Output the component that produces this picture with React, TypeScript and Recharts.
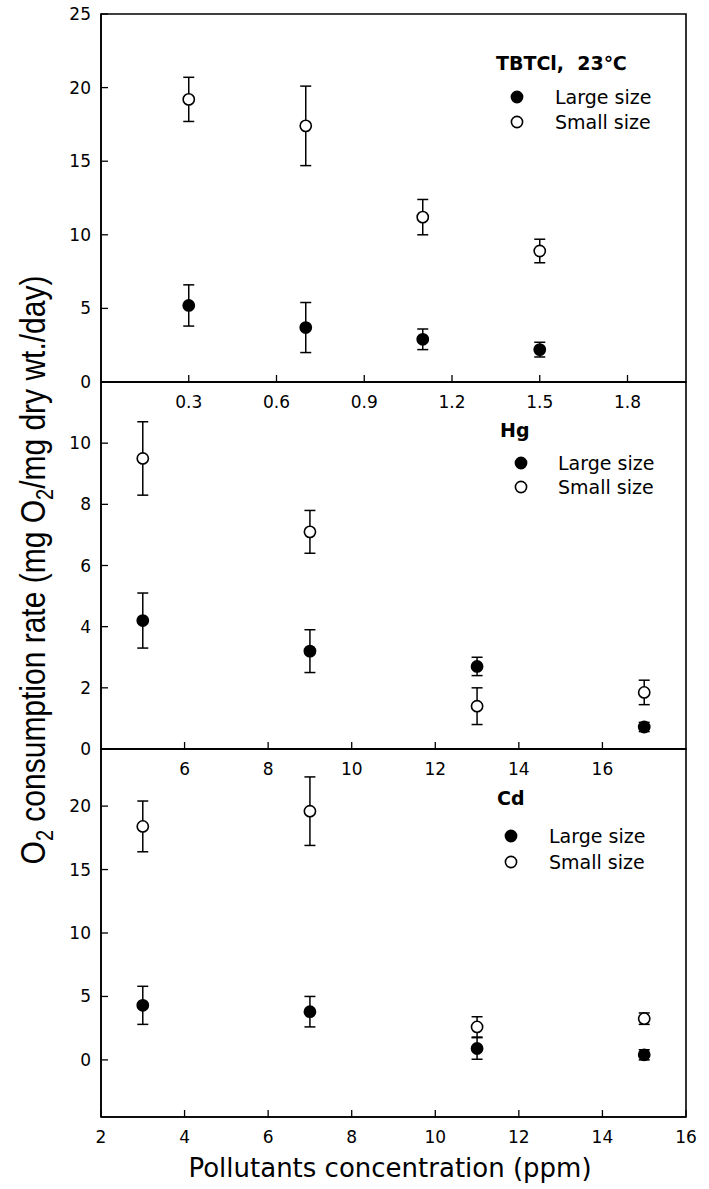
import React from "react";
import { ScatterChart, Scatter, XAxis, YAxis, ErrorBar, Legend, ReferenceArea } from "recharts";

// TBTCl, 23°C
const tbtConc = [0.3, 0.7, 1.1, 1.5];
const tbtLarge = [5.2, 3.7, 2.9, 2.2];
const tbtLargeErr = [1.4, 1.7, 0.7, 0.5];
const tbtSmall = [19.2, 17.4, 11.2, 8.9];
const tbtSmallErr = [1.5, 2.7, 1.2, 0.8];

// Hg
const hgConc = [5, 9, 13, 17];
const hgLarge = [4.2, 3.2, 2.7, 0.72];
const hgLargeErr = [0.9, 0.7, 0.3, 0.15];
const hgSmall = [9.5, 7.1, 1.4, 1.85];
const hgSmallErr = [1.2, 0.7, 0.6, 0.4];

// Cd
const cdConc = [3, 7, 11, 15];
const cdLarge = [4.3, 3.8, 0.9, 0.4];
const cdLargeErr = [1.5, 1.2, 0.85, 0.4];
const cdSmall = [18.4, 19.6, 2.6, 3.25];
const cdSmallErr = [2.0, 2.7, 0.8, 0.45];

const tbtXTicks = [0.3, 0.6, 0.9, 1.2, 1.5, 1.8];
const tbtYTicks = [0, 5, 10, 15, 20, 25];
const hgXTicks = [6, 8, 10, 12, 14, 16];
const hgYTicks = [0, 2, 4, 6, 8, 10];
const cdXTicks = [2, 4, 6, 8, 10, 12, 14, 16];
const cdYTicks = [0, 5, 10, 15, 20];

const seriesNames = ["Large size", "Small size"];

const FONT = "'DejaVu Sans', sans-serif";
const TITLE_FONT = "'Liberation Sans', Arial, sans-serif";
const W = 709;
const PLOT_LEFT = 101;
const PLOT_RIGHT = 686;
const PAD = 12;
const XAXIS_H = 40;

const axisLine = { stroke: "#000", strokeWidth: 1.6 };
const tickLine = { stroke: "#000", strokeWidth: 1.3 };
const tickStyle = { fill: "#000", fontSize: 17, fontFamily: FONT };

const dot = (fill: string) => (props: any) => (
  <circle cx={props.cx} cy={props.cy} r={5.6} fill={fill} stroke="#000" strokeWidth={1.6} />
);

type LegendPos = { left: number; titleBase: number; rows: number[]; markerX: number; textX: number };

function Panel(props: {
  plotTop: number;
  plotBottom: number;
  xs: number[];
  large: number[];
  largeErr: number[];
  small: number[];
  smallErr: number[];
  xDomain: number[];
  xTicks: number[];
  yDomain: number[];
  yTicks: number[];
  title: string;
  legend: LegendPos;
}) {
  const { plotTop, plotBottom, xs, legend, xDomain, yDomain } = props;
  const largeData = xs.map((x, i) => ({ x, y: props.large[i], err: props.largeErr[i] }));
  const smallData = xs.map((x, i) => ({ x, y: props.small[i], err: props.smallErr[i] }));
  const top = plotTop - PAD;
  const h = plotBottom - plotTop + PAD + XAXIS_H;

  const legendBox = () => (
    <svg width={W} height={h} style={{ display: "block" }}>
      <text x={legend.left} y={legend.titleBase - top} fontFamily={FONT} fontWeight="bold" fontSize={19}>
        {props.title}
      </text>
      {seriesNames.map((name, i) => (
        <g key={name}>
          <circle
            cx={legend.markerX}
            cy={legend.rows[i] - top}
            r={5.6}
            fill={i === 0 ? "#000" : "#fff"}
            stroke="#000"
            strokeWidth={1.6}
          />
          <text x={legend.textX} y={legend.rows[i] - top + 7} fontFamily={FONT} fontSize={19}>
            {name}
          </text>
        </g>
      ))}
    </svg>
  );

  return (
    <div style={{ position: "absolute", left: 0, top }}>
      <ScatterChart width={W} height={h} margin={{ top: PAD, right: W - PLOT_RIGHT, bottom: 0, left: 0 }}>
        <XAxis
          dataKey="x"
          type="number"
          domain={xDomain}
          ticks={props.xTicks}
          interval={0}
          allowDataOverflow
          height={XAXIS_H}
          tickSize={-7}
          tickMargin={21}
          tick={tickStyle}
          axisLine={axisLine}
          tickLine={tickLine}
        />
        <YAxis
          dataKey="y"
          type="number"
          domain={yDomain}
          ticks={props.yTicks}
          interval={0}
          allowDataOverflow
          width={PLOT_LEFT}
          tickSize={-7}
          tickMargin={17}
          tick={tickStyle}
          axisLine={axisLine}
          tickLine={tickLine}
        />
        {/* frame: top and right edges of the panel */}
        <ReferenceArea
          x1={xDomain[0]}
          x2={xDomain[1]}
          y1={yDomain[0]}
          y2={yDomain[1]}
          fill="none"
          fillOpacity={0}
          stroke="#000"
          strokeWidth={1.6}
          ifOverflow="visible"
        />
        <Legend
          layout="horizontal"
          verticalAlign="middle"
          align="center"
          wrapperStyle={{ left: 0, top: 0, width: W, height: h, pointerEvents: "none" }}
          content={legendBox}
        />
        <Scatter data={largeData} shape={dot("#000")} isAnimationActive={false}>
          <ErrorBar dataKey="err" direction="y" width={5.5} stroke="#000" strokeWidth={1.5} />
        </Scatter>
        <Scatter data={smallData} shape={dot("#fff")} isAnimationActive={false}>
          <ErrorBar dataKey="err" direction="y" width={5.5} stroke="#000" strokeWidth={1.5} />
        </Scatter>
      </ScatterChart>
    </div>
  );
}

export default function App() {
  return (
    <div style={{ position: "absolute", left: 0, top: 0, width: W, height: 1189, background: "#fff" }}>
      <Panel
        plotTop={14}
        plotBottom={382}
        xs={tbtConc}
        large={tbtLarge}
        largeErr={tbtLargeErr}
        small={tbtSmall}
        smallErr={tbtSmallErr}
        xDomain={[0, 2]}
        xTicks={tbtXTicks}
        yDomain={[0, 25]}
        yTicks={tbtYTicks}
        title={"TBTCl,\u00a0\u00a023\u2103"}
        legend={{ left: 496, titleBase: 70, rows: [97, 122], markerX: 517, textX: 555 }}
      />
      <Panel
        plotTop={382}
        plotBottom={749}
        xs={hgConc}
        large={hgLarge}
        largeErr={hgLargeErr}
        small={hgSmall}
        smallErr={hgSmallErr}
        xDomain={[4, 18]}
        xTicks={hgXTicks}
        yDomain={[0, 12]}
        yTicks={hgYTicks}
        title="Hg"
        legend={{ left: 500, titleBase: 437, rows: [463, 487], markerX: 521, textX: 558 }}
      />
      <Panel
        plotTop={749}
        plotBottom={1117}
        xs={cdConc}
        large={cdLarge}
        largeErr={cdLargeErr}
        small={cdSmall}
        smallErr={cdSmallErr}
        xDomain={[2, 16]}
        xTicks={cdXTicks}
        yDomain={[-4.5, 24.5]}
        yTicks={cdYTicks}
        title="Cd"
        legend={{ left: 497, titleBase: 805, rows: [836, 862], markerX: 511, textX: 549 }}
      />
      <svg width={W} height={1189} style={{ position: "absolute", left: 0, top: 0, pointerEvents: "none" }}>
        <text
          transform="translate(45,570) scale(1.15,1) rotate(-90)"
          textAnchor="middle"
          fontFamily={TITLE_FONT}
          fontSize={30}
        >
          O<tspan dy={7} fontSize={20}>2</tspan>
          <tspan dy={-7}> consumption rate (mg O</tspan>
          <tspan dy={7} fontSize={20}>2</tspan>
          <tspan dy={-7}>/mg dry wt./day)</tspan>
        </text>
        <text x={390} y={1177} textAnchor="middle" fontFamily={FONT} fontSize={26}>
          Pollutants concentration (ppm)
        </text>
      </svg>
    </div>
  );
}
